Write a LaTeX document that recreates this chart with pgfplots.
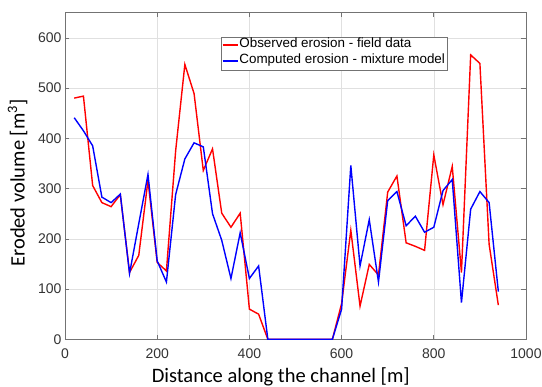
\documentclass[border=0pt]{standalone}
\usepackage{fontspec}
\setmainfont{Liberation Sans}
\newfontfamily\carlito{Carlito}
\usepackage{pgfplots}
\pgfplotsset{compat=1.18}
\definecolor{axgray}{gray}{0.45}
\definecolor{tickgray}{gray}{0.2}
\definecolor{gridgray}{gray}{0.88}
\begin{document}
\begin{tikzpicture}
\path[use as bounding box] (-65pt,-47.7pt) rectangle (477pt,339.3pt);
\begin{axis}[
  scale only axis,
  width=461pt, height=326.6pt,
  xmin=0, xmax=1000, ymin=0, ymax=650,
  xtick={0,200,...,1000}, ytick={0,100,...,600},
  grid=major,
  major grid style={draw=gridgray, line width=0.5pt},
  axis line style={draw=axgray, line width=0.6pt},
  tick style={draw=axgray, line width=0.6pt},
  tick align=inside,
  major tick length=4.5pt,
  /pgf/number format/assume math mode=true,
  /pgf/number format/1000 sep={},
  tick label style={font=\fontsize{14}{16}\selectfont, text=tickgray},
  xticklabel style={yshift=-6pt},
  xlabel={Distance along the channel [m]},
  ylabel={Eroded volume [m\textsuperscript{3}]},
  xlabel style={font=\carlito\fontsize{20.5}{24}\selectfont, at={(axis description cs:0.468,-0.1329)}, anchor=base},
  ylabel style={font=\carlito\fontsize{20.5}{24}\selectfont, at={(axis description cs:-0.0738,0.4786)}, anchor=south},
  legend style={at={(axis description cs:0.3377,0.9265)}, anchor=north west,
    font=\fontsize{13.4}{15}\selectfont, draw=axgray, fill=white,
    inner xsep=1pt, inner ysep=2.5pt, row sep=4pt,
    nodes={inner sep=1pt, text height=0.75em, text depth=0.25em}},
  legend cell align=left,
  legend image code/.code={\draw[#1, line width=1.5pt] (0pt,0.5pt) -- (15pt,0.5pt);},
]
\addplot[red, line width=1.4pt] coordinates {
(20,480) (40,484) (60,306) (80,272) (100,264) (120,288) (140,133) (160,167)
(180,316) (200,153) (220,136) (240,375) (260,547) (280,489) (300,336) (320,379)
(340,251) (360,223) (380,251) (400,60) (420,50) (440,0) (460,0) (480,0)
(500,0) (520,0) (540,0) (560,0) (580,0) (600,71) (620,217) (640,66)
(660,149) (680,128) (700,293) (720,325) (740,192) (760,185) (780,177) (800,367)
(820,268) (840,344) (860,133) (880,566) (900,549) (920,189) (940,68)
};
\addlegendentry{Observed erosion - field data}
\addplot[blue, line width=1.4pt] coordinates {
(20,441) (40,415) (60,385) (80,283) (100,272) (120,289) (140,131) (160,230)
(180,328) (200,156) (220,114) (240,288) (260,359) (280,391) (300,383) (320,250)
(340,197) (360,121) (380,212) (400,121) (420,146) (440,0) (460,0) (480,0)
(500,0) (520,0) (540,0) (560,0) (580,0) (600,60) (620,346) (640,146)
(660,238) (680,114) (700,276) (720,294) (740,226) (760,245) (780,213) (800,223)
(820,296) (840,318) (860,73) (880,259) (900,294) (920,272) (940,95)
};
\addlegendentry{Computed erosion - mixture model}
\end{axis}
\end{tikzpicture}
\end{document}
